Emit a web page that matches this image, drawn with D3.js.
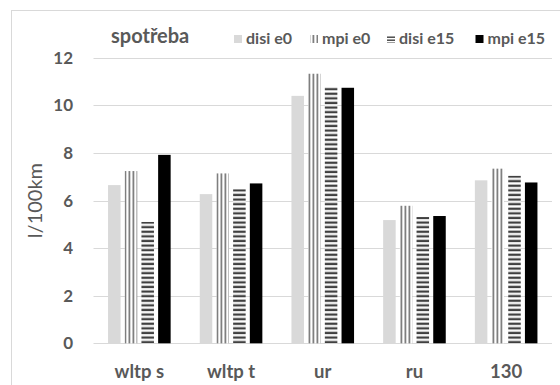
<!DOCTYPE html>
<html>
<head>
<meta charset="utf-8">
<script src="https://cdn.jsdelivr.net/npm/d3@7"></script>
<style>
  html, body { margin: 0; padding: 0; background: #fff; }
  svg { display: block; font-family: Lato, "Open Sans", sans-serif; }
</style>
</head>
<body>
<div id="chart"></div>
<script>
"use strict";

const categories = ["wltp s", "wltp t", "ur", "ru", "130"];
const seriesNames = ["disi e0", "mpi e0", "disi e15", "mpi e15"];
const disiE0  = [6.65, 6.27, 10.40, 5.18, 6.85];
const mpiE0   = [7.24, 7.14, 11.33, 5.78, 7.34];
const disiE15 = [5.10, 6.48, 10.76, 5.31, 7.04];
const mpiE15  = [7.92, 6.72, 10.74, 5.35, 6.76];
const yTicks  = [0, 2, 4, 6, 8, 10, 12];

const seriesValues = [disiE0, mpiE0, disiE15, mpiE15];
const fills = ["#d9d9d9", "url(#pat-vert)", "url(#pat-horiz)", "#000000"];
const legendFills = ["#d9d9d9", "url(#pat-vert)", "url(#pat-horiz-sm)", "#000000"];

const W = 560, H = 385;
const plot = { left: 93.5, right: 552, top: 57.8, bottom: 343.3 };
const textColor = "#595959";

const svg = d3.select("#chart").append("svg")
  .attr("width", W).attr("height", H);

// fill patterns
const defs = svg.append("defs");
const pv = defs.append("pattern").attr("id", "pat-vert")
  .attr("patternUnits", "userSpaceOnUse").attr("width", 4).attr("height", 4);
pv.append("rect").attr("width", 4).attr("height", 4).attr("fill", "#fff");
pv.append("rect").attr("x", 0.5).attr("width", 1.8).attr("height", 4).attr("fill", "#7f7f7f");

const ph = defs.append("pattern").attr("id", "pat-horiz")
  .attr("patternUnits", "userSpaceOnUse").attr("width", 4).attr("height", 4.6);
ph.append("rect").attr("width", 4).attr("height", 4.6).attr("fill", "#fff");
ph.append("rect").attr("y", 0.6).attr("width", 4).attr("height", 2.3).attr("fill", "#404040");

const phs = defs.append("pattern").attr("id", "pat-horiz-sm")
  .attr("patternUnits", "userSpaceOnUse").attr("width", 4).attr("height", 3);
phs.append("rect").attr("width", 4).attr("height", 3).attr("fill", "#fff");
phs.append("rect").attr("y", 0.5).attr("width", 4).attr("height", 1.4).attr("fill", "#404040");

// chart border (only left/top visible in frame)
svg.append("rect")
  .attr("x", 11.5).attr("y", 10.5)
  .attr("width", 600).attr("height", 400)
  .attr("fill", "none").attr("stroke", "#d9d9d9");

const x0 = d3.scaleBand().domain(categories).range([plot.left, plot.right]);
const groupW = 62.6;
const x1 = d3.scaleBand().domain(seriesNames)
  .range([(x0.step() - groupW) / 2, (x0.step() + groupW) / 2])
  .paddingInner(0.25);
const y = d3.scaleLinear().domain([0, 12]).range([plot.bottom, plot.top]);

// gridlines
svg.append("g").selectAll("line").data(yTicks).join("line")
  .attr("x1", plot.left).attr("x2", plot.right)
  .attr("y1", (d) => Math.round(y(d)) + 0.5).attr("y2", (d) => Math.round(y(d)) + 0.5)
  .attr("stroke", "#d9d9d9").attr("stroke-width", 1);

// y tick labels
svg.append("g").selectAll("text").data(yTicks).join("text")
  .attr("x", 73).attr("y", (d) => y(d) + 6)
  .attr("text-anchor", "end")
  .attr("font-size", 17).attr("font-weight", 700)
  .attr("fill", textColor)
  .text((d) => d);

// y axis title
svg.append("text")
  .attr("transform", `translate(42, ${(plot.top + plot.bottom) / 2}) rotate(-90)`)
  .attr("text-anchor", "middle")
  .attr("font-size", 20)
  .attr("fill", textColor)
  .text("l/100km");

// bars
seriesNames.forEach((s, si) => {
  svg.append("g").selectAll("rect").data(seriesValues[si]).join("rect")
    .attr("x", (d, i) => x0(categories[i]) + x1(s))
    .attr("y", (d) => y(d))
    .attr("width", x1.bandwidth())
    .attr("height", (d) => y(0) - y(d))
    .attr("fill", fills[si]);
});

// category labels
svg.append("g").selectAll("text").data(categories).join("text")
  .attr("x", (d) => x0(d) + x0.bandwidth() / 2)
  .attr("y", 378)
  .attr("text-anchor", "middle")
  .attr("font-size", 18.5).attr("font-weight", 700)
  .attr("fill", textColor)
  .text((d) => d);

// title
svg.append("text")
  .attr("x", 111).attr("y", 43)
  .attr("font-size", 20).attr("font-weight", 700)
  .attr("fill", textColor)
  .text("spotřeba");

// legend
const legendX = [234, 310, 387, 475.5];
const legend = svg.append("g");
seriesNames.forEach((s, si) => {
  legend.append("rect")
    .attr("x", legendX[si]).attr("y", 35)
    .attr("width", 8).attr("height", 8)
    .attr("fill", legendFills[si]);
  legend.append("text")
    .attr("x", legendX[si] + 12).attr("y", 43.5)
    .attr("font-size", 16).attr("font-weight", 700)
    .attr("fill", textColor)
    .text(s);
});
</script>
</body>
</html>
